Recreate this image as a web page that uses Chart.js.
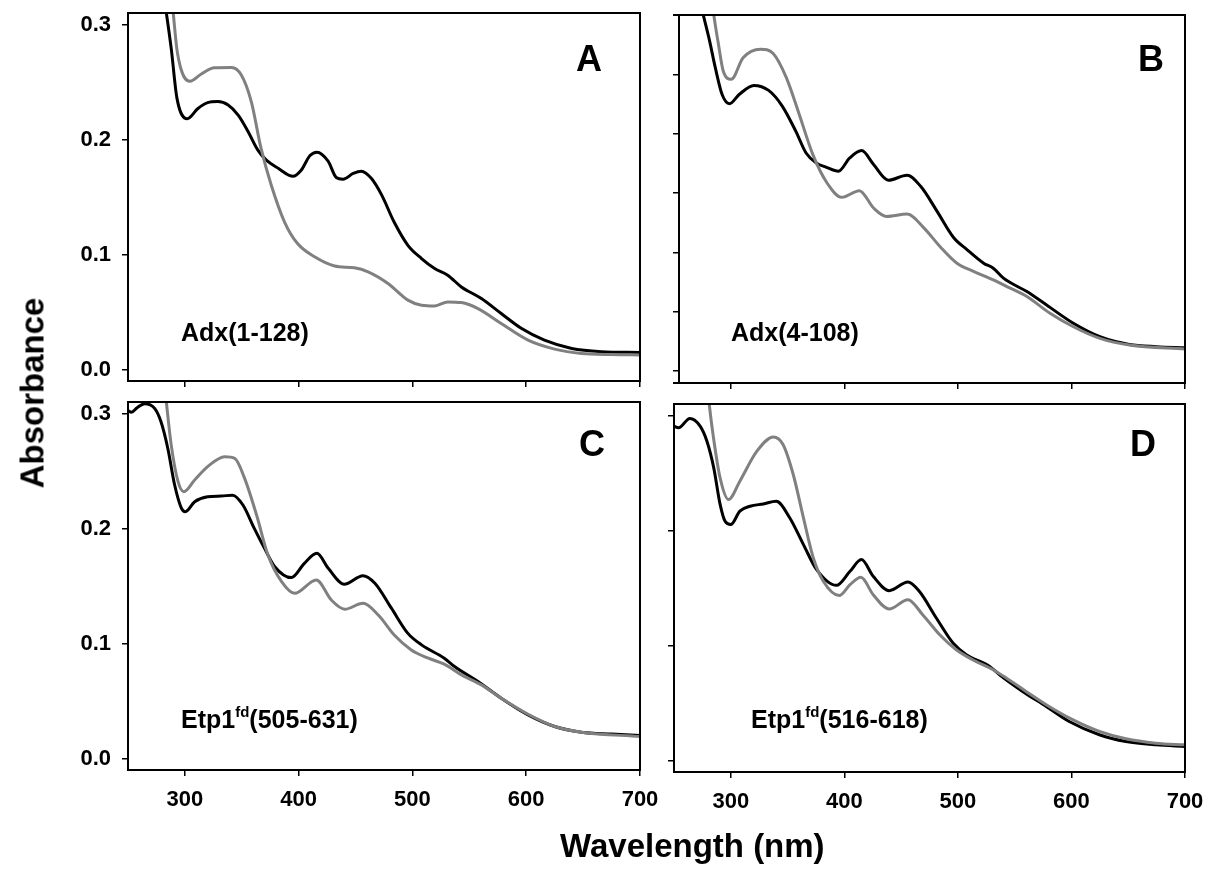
<!DOCTYPE html>
<html><head><meta charset="utf-8">
<script src="https://cdn.jsdelivr.net/npm/chart.js@4.4.1/dist/chart.umd.min.js"></script>
<style>
html,body{margin:0;padding:0;background:#fff;}
#wrap{position:relative;width:1216px;height:873px;overflow:hidden;font-family:'Liberation Sans',Arial,sans-serif;font-weight:bold;color:#000;}
canvas{position:absolute;left:0;top:0;}
.t{position:absolute;white-space:nowrap;line-height:1;}
.sup{position:relative;top:-11px;font-size:15px;}
</style></head>
<body><div id="wrap">
<canvas id="cA" width="1216" height="873"></canvas>
<canvas id="cB" width="1216" height="873"></canvas>
<canvas id="cC" width="1216" height="873"></canvas>
<canvas id="cD" width="1216" height="873"></canvas>
<div class="t" style="left:576px;top:41px;font-size:36px">A</div>
<div class="t" style="left:1138px;top:41px;font-size:36px">B</div>
<div class="t" style="left:579px;top:426px;font-size:36px">C</div>
<div class="t" style="left:1130px;top:426px;font-size:36px">D</div>
<div class="t" style="left:181px;top:320px;font-size:25px">Adx(1-128)</div>
<div class="t" style="left:731px;top:320px;font-size:25px">Adx(4-108)</div>
<div class="t" style="left:181px;top:707px;font-size:25px">Etp1<span class="sup">fd</span>(505-631)</div>
<div class="t" style="left:751px;top:707px;font-size:25px">Etp1<span class="sup">fd</span>(516-618)</div>
<div class="t" style="left:560px;top:829px;font-size:33px">Wavelength (nm)</div>
<div class="t" style="left:32px;top:393px;font-size:33px;transform:translate(-50%,-50%) rotate(-90deg);">Absorbance</div>
</div>
<script>
// ---- tick values ----
const xTickValues = [300, 400, 500, 600, 700];
const yTickValuesACD = [0.0, 0.1, 0.2, 0.3];
const yTickValuesB = [0.0, 0.05, 0.10, 0.15, 0.20, 0.25];

// ---- Panel A: Adx(1-128) ----
const aBlackNm  = [270, 276, 283.7, 288, 293, 302, 311.5, 320, 329, 338, 347, 355.5, 364, 371.6, 382, 395, 402, 410, 416, 426, 433, 439, 448, 455, 464, 473, 484, 496, 508, 519.5, 531, 543, 560.6, 578, 596, 616, 640, 666, 700];
const aBlackAbs = [0.41, 0.36, 0.31, 0.279, 0.236, 0.218, 0.227, 0.232, 0.233, 0.230, 0.221, 0.207, 0.191, 0.182, 0.175, 0.168, 0.173, 0.186, 0.189, 0.181, 0.167, 0.1655, 0.1705, 0.1724, 0.166, 0.1516, 0.128, 0.108, 0.0965, 0.0878, 0.082, 0.0718, 0.0617, 0.0487, 0.0356, 0.0255, 0.0183, 0.0155, 0.0148];
const aGrayNm   = [283, 287, 289.8, 293.5, 304.5, 314.5, 326, 341, 349.6, 358.4, 367, 376, 387.7, 399, 414, 431.6, 449, 461, 478.5, 496, 508, 519.5, 531, 543, 557.6, 578, 601.6, 625, 648.5, 675, 700];
const aGrayAbs  = [0.40, 0.345, 0.31, 0.275, 0.2507, 0.257, 0.2623, 0.2626, 0.256, 0.2327, 0.192, 0.160, 0.128, 0.1095, 0.098, 0.090, 0.0884, 0.0849, 0.0748, 0.0603, 0.0559, 0.0553, 0.0588, 0.0582, 0.053, 0.040, 0.0255, 0.0177, 0.0139, 0.0130, 0.0127];

// ---- Panel B: Adx(4-108) ----
const bBlackNm  = [262, 268, 275.4, 281, 286, 292, 298.5, 307, 320, 333, 345, 357, 366, 375, 384, 394.5, 404.5, 415, 425.5, 438.5, 455, 467, 481.5, 496, 508, 522.5, 531, 540, 560.6, 578, 601.6, 625, 651, 675, 700];
const bBlackAbs = [0.36, 0.33, 0.30, 0.278, 0.2556, 0.233, 0.2252, 0.233, 0.2407, 0.2365, 0.2233, 0.202, 0.1838, 0.1754, 0.1717, 0.1684, 0.1796, 0.1858, 0.174, 0.1608, 0.165, 0.1557, 0.1346, 0.1126, 0.1022, 0.0909, 0.0867, 0.0783, 0.067, 0.0557, 0.0403, 0.029, 0.0225, 0.0206, 0.0197];
const bGrayNm   = [276, 281, 284.7, 288.5, 293, 300, 310.5, 326, 337, 348.6, 360, 372, 384.5, 397.5, 413, 425.5, 437, 455, 470, 484, 499, 514, 531, 543, 560.6, 581, 601.6, 625, 651, 700];
const bGrayAbs  = [0.38, 0.33, 0.30, 0.277, 0.2528, 0.2458, 0.264, 0.2712, 0.2675, 0.2472, 0.2162, 0.1824, 0.1585, 0.1464, 0.152, 0.1374, 0.1303, 0.1323, 0.1205, 0.105, 0.0909, 0.0839, 0.0769, 0.0712, 0.0628, 0.0487, 0.0374, 0.0276, 0.022, 0.0186];

// ---- Panel C: Etp1fd(505-631) ----
const cBlackNm  = [250, 253, 258, 264.6, 273.4, 279, 285, 291, 297, 300.4, 308.6, 320, 332, 342, 351, 361, 370, 379, 393.6, 405, 416, 426, 440, 456.5, 467, 481.5, 496, 508, 528, 537, 557.6, 578, 601.6, 625, 648.5, 675, 700];
const cBlackAbs = [0.3025, 0.301, 0.305, 0.3085, 0.3044, 0.2928, 0.2696, 0.2378, 0.2175, 0.2146, 0.2233, 0.2276, 0.2282, 0.229, 0.2204, 0.2001, 0.1827, 0.1668, 0.1573, 0.1697, 0.1784, 0.1654, 0.1515, 0.1590, 0.1524, 0.1307, 0.1088, 0.0988, 0.0872, 0.0800, 0.0669, 0.0524, 0.0379, 0.0278, 0.0229, 0.0212, 0.0200];
const cGrayNm   = [275, 280, 283.7, 288, 294, 299, 308.6, 320, 335, 343.8, 352.5, 363, 373, 385, 396.5, 415.5, 428.7, 440.5, 456.5, 470, 484, 499, 514, 528, 543, 560.6, 578, 601.6, 625, 648.5, 700];
const cGrayAbs  = [0.40, 0.345, 0.31, 0.2725, 0.2407, 0.2320, 0.2422, 0.2538, 0.2624, 0.2610, 0.2436, 0.2117, 0.1770, 0.1538, 0.1436, 0.1552, 0.1378, 0.1298, 0.1350, 0.1248, 0.1074, 0.0944, 0.0872, 0.0820, 0.0727, 0.0640, 0.0524, 0.0385, 0.0278, 0.0229, 0.0191];

// ---- Panel D: Etp1fd(516-618) ----
const dBlackNm  = [250, 254, 264, 273, 279, 285, 290.6, 295, 300, 308, 317, 328.7, 340, 352, 364, 375.6, 393, 405, 415, 425.4, 439.5, 456, 466, 481, 495.7, 507.4, 528, 536.7, 557, 577.8, 598, 624.6, 648, 674.4, 700];
const dBlackAbs = [0.2907, 0.2893, 0.2974, 0.2907, 0.2776, 0.2545, 0.2227, 0.2080, 0.2052, 0.2168, 0.2211, 0.2231, 0.2254, 0.2109, 0.1877, 0.1660, 0.1523, 0.1645, 0.1747, 0.1602, 0.1477, 0.1552, 0.1471, 0.1239, 0.1021, 0.0920, 0.0818, 0.0746, 0.0601, 0.0470, 0.0339, 0.0224, 0.0165, 0.0136, 0.0122];
const dGrayNm   = [274, 278, 281, 284.8, 290.6, 298, 308, 323, 337.5, 346, 355, 364, 372.7, 381.5, 395.5, 405, 414.6, 425.4, 439.5, 456, 469, 484, 498.6, 513, 531, 542.6, 560, 577.8, 601, 624.6, 648, 674.4, 700];
const dGrayAbs  = [0.39, 0.34, 0.31, 0.2805, 0.2457, 0.2269, 0.2429, 0.2690, 0.2814, 0.2748, 0.2487, 0.2110, 0.1761, 0.1558, 0.1434, 0.1529, 0.1593, 0.1442, 0.1317, 0.1398, 0.1268, 0.1094, 0.0963, 0.0876, 0.0789, 0.0717, 0.0601, 0.0485, 0.0355, 0.0253, 0.0189, 0.0151, 0.0136];

const FONT = "'Liberation Sans', Arial, sans-serif";
const BLACK = '#000000', GRAY = '#808080';
const W = 1216, H = 873;

function pts(nm, ab) { return nm.map((x, i) => ({ x: x, y: ab[i] })); }

const framePlugin = {
  id: 'frame',
  afterDraw(chart, args, o) {
    const { ctx, chartArea: { left, top, right, bottom } } = chart;
    const ext = o.extendLeft || 0;
    ctx.save();
    ctx.strokeStyle = '#000';
    ctx.lineWidth = 2;
    ctx.strokeRect(left, top, right - left, bottom - top);
    if (ext) {
      ctx.beginPath();
      ctx.moveTo(left - ext, top); ctx.lineTo(left, top);
      ctx.moveTo(left - ext, bottom); ctx.lineTo(left, bottom);
      ctx.stroke();
    }
    ctx.restore();
  }
};

function makeChart(id, rect, xMin, yMin, yMax, yTicks, showYLabels, showXLabels, extendLeft, gray, black) {
  const Y_W = 70, X_H = 50;
  const zeroPad = s => { s.paddingLeft = 0; s.paddingRight = 0; s.paddingTop = 0; s.paddingBottom = 0; };
  return new Chart(document.getElementById(id), {
    type: 'line',
    data: {
      datasets: [
        { data: gray, borderColor: GRAY, borderWidth: 3, pointRadius: 0, fill: false, cubicInterpolationMode: 'monotone' },
        { data: black, borderColor: BLACK, borderWidth: 3, pointRadius: 0, fill: false, cubicInterpolationMode: 'monotone' }
      ]
    },
    options: {
      responsive: false, animation: false, devicePixelRatio: 1, events: [],
      layout: { autoPadding: false, padding: { left: rect.l - Y_W, top: rect.t, right: W - rect.r, bottom: H - rect.b - X_H } },
      plugins: { legend: { display: false }, tooltip: { enabled: false }, frame: { extendLeft: extendLeft } },
      scales: {
        x: {
          type: 'linear', position: 'bottom', min: xMin, max: 700,
          afterBuildTicks: s => { s.ticks = xTickValues.map(v => ({ value: v })); },
          afterFit: s => { s.height = X_H; zeroPad(s); },
          ticks: { display: showXLabels, autoSkip: false, maxRotation: 0, padding: 11, color: '#000',
                   font: { family: FONT, size: 22, weight: 'bold' }, callback: v => String(v) },
          grid: { display: true, drawOnChartArea: false, drawTicks: true, tickLength: 6, tickWidth: 1.5, tickColor: '#000', color: '#000', lineWidth: 1.5 },
          border: { display: false }
        },
        y: {
          type: 'linear', position: 'left', min: yMin, max: yMax,
          afterBuildTicks: s => { s.ticks = yTicks.map(v => ({ value: v })); },
          afterFit: s => { s.width = Y_W; zeroPad(s); },
          ticks: { display: showYLabels, autoSkip: false, padding: 11, color: '#000',
                   font: { family: FONT, size: 22, weight: 'bold' }, callback: v => Number(v).toFixed(1) },
          grid: { display: true, drawOnChartArea: false, drawTicks: true, tickLength: 6, tickWidth: 1.5, tickColor: '#000', color: '#000', lineWidth: 1.5 },
          border: { display: false }
        }
      }
    },
    plugins: [framePlugin]
  });
}

makeChart('cA', { l: 128, t: 13, r: 640, b: 381 }, 250, -0.01, 0.31, yTickValuesACD, true, false, 0,
  pts(aGrayNm, aGrayAbs), pts(aBlackNm, aBlackAbs));
makeChart('cB', { l: 679, t: 15, r: 1185, b: 383 }, 254, -0.01, 0.30, yTickValuesB, false, false, 6,
  pts(bGrayNm, bGrayAbs), pts(bBlackNm, bBlackAbs));
makeChart('cC', { l: 128, t: 402, r: 640, b: 770 }, 250, -0.01, 0.31, yTickValuesACD, true, true, 0,
  pts(cGrayNm, cGrayAbs), pts(cBlackNm, cBlackAbs));
makeChart('cD', { l: 674, t: 404, r: 1185, b: 772 }, 250, -0.01, 0.31, yTickValuesACD, false, true, 0,
  pts(dGrayNm, dGrayAbs), pts(dBlackNm, dBlackAbs));
</script>
</body></html>
